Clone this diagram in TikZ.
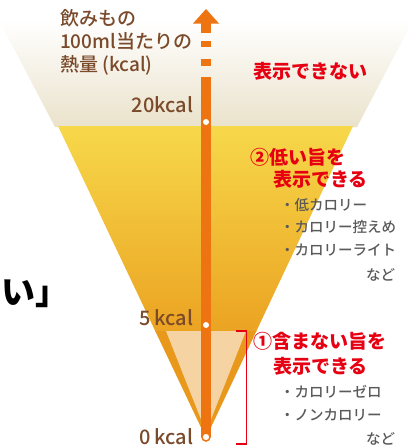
\documentclass[tikz,border=0pt]{standalone}
\usepackage{fontspec}
\setmainfont{Noto Sans CJK JP}
\newfontfamily\medfont{Noto Sans CJK JP Medium}
\definecolor{brownT}{HTML}{7A4A2A}
\definecolor{redT}{HTML}{E60012}
\definecolor{grayT}{HTML}{5A5A5A}
\definecolor{axisC}{HTML}{EE7411}
\definecolor{yelTop}{HTML}{F7D84A}
\definecolor{yelBot}{HTML}{EBA322}
\definecolor{orng}{HTML}{E8991C}
\definecolor{peach}{HTML}{F6D3A2}
\definecolor{beige}{HTML}{EAE2CB}
\begin{document}
\begin{tikzpicture}[x=1pt,y=-1pt,
 lbl/.style={inner sep=0pt, outer sep=0pt, text=brownT, font=\medfont\fontsize{19}{22}\selectfont, anchor=west},
 kc/.style={inner sep=0pt, outer sep=0pt, text=brownT, font=\medfont\fontsize{20}{22}\selectfont, anchor=east},
 redlbl/.style={inner sep=0pt, outer sep=0pt, text=redT, font=\fontsize{19}{22}\selectfont\bfseries, anchor=west},
 item/.style={inner sep=0pt, outer sep=0pt, text=grayT, font=\medfont\fontsize{14.5}{17}\selectfont, anchor=west},
 dotw/.style={circle, fill=white, inner sep=0pt, minimum size=6pt},
]
\useasboundingbox (0,0) rectangle (408,448);
\fill[white] (0,0) rectangle (408,448);
% beige upper band
\shade[top color=white, bottom color=beige] (-1,20) -- (413,20) -- (357,127) -- (55,127) -- cycle;
% yellow / orange funnel
\begin{scope}
\clip (58,126) -- (353,126) -- (206,438) -- cycle;
\shade[top color=yelTop, bottom color=yelBot] (0,126) rectangle (408,331);
\fill[orng] (0,330.5) rectangle (408,440);
\end{scope}
\fill[peach] (166,331) -- (246,331) -- (206,432) -- cycle;
% axis
\fill[axisC] (201,77) rectangle (211,437);
\fill[axisC] (201,59) rectangle (211,66);
\fill[axisC] (201,41) rectangle (211,47);
\fill[axisC] (201,22) rectangle (211,33);
\fill[axisC] (193,23.5) -- (219,23.5) -- (206,9) -- cycle;
\node[dotw] (d20) at (206,122) {};
\node[dotw] (d5) at (206,325) {};
\node[circle, fill=white, draw=axisC, line width=1.5pt, inner sep=0pt, minimum size=8pt] (d0) at (206,437) {};
% bracket
\coordinate (b1) at (236,331);
\coordinate (b2) at (246.5,331);
\coordinate (b3) at (246.5,444);
\coordinate (b4) at (236,444);
\draw[redT, line width=1.2pt] (b1) -- (b2) -- (b3) -- (b4);
% axis labels
\node[lbl] (t1) at (60,18) {飲みもの};
\node[lbl] (t2) at (60,41) {100ml当たりの};
\node[lbl] (t3) at (60,65) {熱量 (kcal)};
\node[kc] (k20) at (193,105) {20kcal};
\node[kc] (k5) at (193,318) {5\,kcal};
\node[kc] (k0) at (193,437) {0\,kcal};
% red labels
\node[redlbl] (r0) at (253,71) {表示できない};
\node[redlbl] (r1) at (250,157) {②低い旨を};
\node[redlbl] (r2) at (273,179) {表示できる};
\node[redlbl] (r3) at (253,341) {①含まない旨を};
\node[redlbl] (r4) at (273,366) {表示できる};
% items
\node[item] (i1) at (280,205) {・低カロリー};
\node[item] (i2) at (280,227) {・カロリー控えめ};
\node[item] (i3) at (280,250) {・カロリーライト};
\node[item] (i4) at (366,275) {など};
\node[item] (i5) at (280,392) {・カロリーゼロ};
\node[item] (i6) at (280,415) {・ノンカロリー};
\node[item] (i7) at (366,439) {など};
% heading fragment
\node[inner sep=0pt, anchor=west, font=\fontsize{34}{34}\selectfont\bfseries] (cut) at (1,294) {い」};
\end{tikzpicture}
\end{document}
